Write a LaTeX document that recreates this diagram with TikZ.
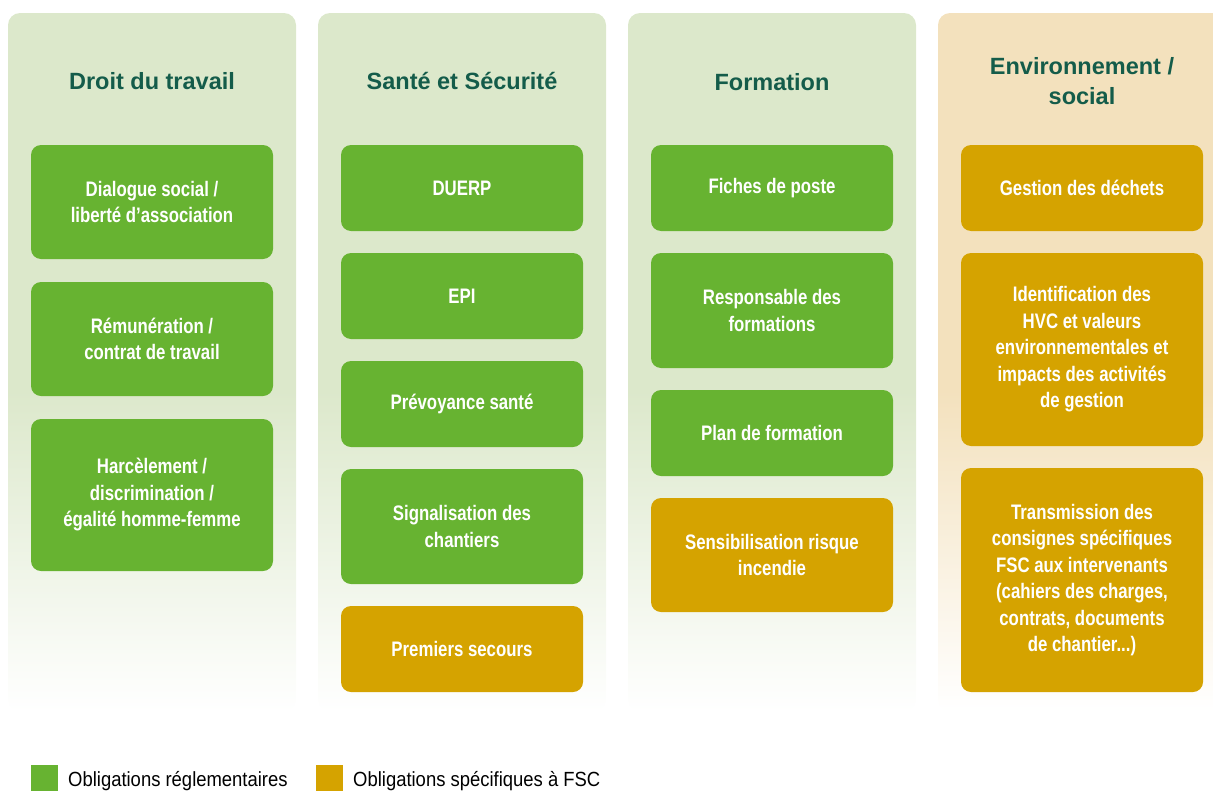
\documentclass[tikz,border=0pt]{standalone}
\usepackage{fontspec}
\usepackage{xcolor}
\usepackage{tikz}
\usetikzlibrary{positioning}
\setmainfont{Liberation Sans}
\newfontfamily\boxfont[FakeStretch=0.8]{Liberation Sans}
\newfontfamily\legfont[FakeStretch=0.9]{Liberation Sans}
\definecolor{oblgreen}{HTML}{67B331}
\definecolor{fscgold}{HTML}{D5A300}
\definecolor{headteal}{HTML}{145C4A}
\definecolor{colgreen}{HTML}{DCE8CB}
\definecolor{coltan}{HTML}{F3E1BD}
\pgfdeclareverticalshading{greenfade}{100bp}{color(0bp)=(white); color(25bp)=(white); color(48bp)=(colgreen); color(100bp)=(colgreen)}
\pgfdeclareverticalshading{tanfade}{100bp}{color(0bp)=(white); color(25bp)=(white); color(48bp)=(coltan); color(100bp)=(coltan)}

\begin{document}
\begin{tikzpicture}[x=1pt,y=-1pt,
      item/.style={rounded corners=10pt,inner sep=0pt,minimum width=242pt,align=center,text=white,
        font=\boxfont\bfseries\fontsize{21}{26.5}\selectfont},
      gbox/.style={item,fill=oblgreen},
      obox/.style={item,fill=fscgold},
      head/.style={align=center,text=headteal,font=\bfseries\fontsize{23.5}{30}\selectfont},
      legsq/.style={minimum size=27pt,inner sep=0pt},
      legtext/.style={anchor=base west,inner sep=0pt,font=\legfont\fontsize{20.5}{24}\selectfont}]
    \useasboundingbox (0,0) rectangle (1213,790);
    % columns
    \foreach \x/\s in {8/greenfade,318/greenfade,628/greenfade,938/tanfade} {
      \shade[shading=\s,rounded corners=12pt] (\x,13) rectangle ++(288,699);
    }
    \node[head] (hdroit) at (152,81) {Droit du travail};
    \node[head] (hsante) at (462,81) {Santé et Sécurité};
    \node[head] (hform) at (772,82) {Formation};
    \node[head] (henv) at (1082,81) {Environnement /\\social};
    % Droit du travail
    \node[gbox,minimum height=114pt] (dial) at (152,202) {Dialogue social /\\liberté d’association};
    \node[gbox,minimum height=114pt] (remu) at (152,339) {Rémunération /\\contrat de travail};
    \node[gbox,minimum height=152pt] (harc) at (152,495) {Harcèlement /\\discrimination /\\égalité homme-femme};
    % Santé et Sécurité
    \node[gbox,minimum height=86pt] (duerp) at (462,188) {DUERP};
    \node[gbox,minimum height=86pt] (epi) at (462,296) {EPI};
    \node[gbox,minimum height=86pt] (prev) at (462,404) {Prévoyance santé};
    \node[gbox,minimum height=115pt] (signal) at (462,526.5) {Signalisation des\\chantiers};
    \node[obox,minimum height=86pt] (secours) at (462,649) {Premiers secours};
    % Formation
    \node[gbox,minimum height=86pt] (fiches) at (772,188) {Fiches de poste};
    \node[gbox,minimum height=115pt] (resp) at (772,310.5) {Responsable des\\formations};
    \node[gbox,minimum height=86pt] (plan) at (772,433) {Plan de formation};
    \node[obox,minimum height=114pt] (sensib) at (772,555) {Sensibilisation risque\\incendie};
    % Environnement / social
    \node[obox,minimum height=86pt] (dechets) at (1082,188) {Gestion des déchets};
    \node[obox,minimum height=193pt] (hvc) at (1082,349.5) {Identification des\\HVC et valeurs\\environnementales et\\impacts des activités\\de gestion};
    \node[obox,minimum height=224pt] (consignes) at (1082,580) {Transmission des\\consignes spécifiques\\FSC aux intervenants\\(cahiers des charges,\\contrats, documents\\de chantier...)};
    % legend
    \node[legsq,fill=oblgreen] (lgreen) at (44.5,778.5) {};
    \node[legtext] (tgreen) at (68,786) {Obligations réglementaires};
    \node[legsq,fill=fscgold] (lgold) at (329.5,778.5) {};
    \node[legtext] (tgold) at (353,786) {Obligations spécifiques à FSC};
\end{tikzpicture}
\end{document}
